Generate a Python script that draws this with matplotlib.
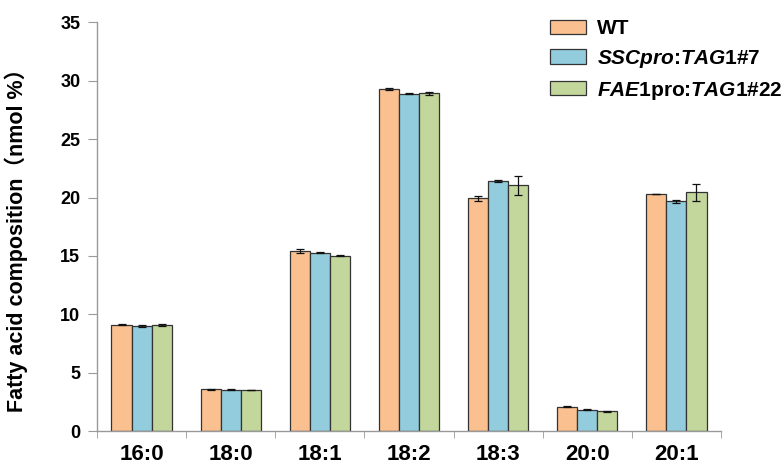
import numpy as np
import matplotlib
matplotlib.use("Agg")
import matplotlib.pyplot as plt

plt.rcParams['font.family'] = ['Liberation Sans', 'Noto Sans CJK SC', 'DejaVu Sans']
plt.rcParams['mathtext.fontset'] = 'custom'
plt.rcParams['mathtext.rm'] = 'Liberation Sans:bold'
plt.rcParams['mathtext.it'] = 'Liberation Sans:italic:bold'
plt.rcParams['mathtext.bf'] = 'Liberation Sans:bold'

# fatty acid species and mean composition (nmol %) with error
acids = ['16:0', '18:0', '18:1', '18:2', '18:3', '20:0', '20:1']
wt = [9.12, 3.57, 15.38, 29.30, 19.92, 2.09, 20.29]
wt_err = [0.05, 0.06, 0.17, 0.05, 0.23, 0.02, 0.03]
ssc = [9.00, 3.55, 15.26, 28.90, 21.43, 1.83, 19.69]
ssc_err = [0.12, 0.06, 0.04, 0.03, 0.08, 0.02, 0.13]
fae = [9.06, 3.49, 15.03, 28.93, 21.03, 1.71, 20.43]
fae_err = [0.10, 0.02, 0.06, 0.14, 0.80, 0.04, 0.77]

labels = ['WT',
          r'$\mathit{SSCpro}$:$\mathit{TAG1\#7}$',
          r'$\mathit{FAE1}$pro:$\mathit{TAG1\#22}$']
colors = ['#FAC090', '#93CDDD', '#C3D69B']

fig = plt.figure(figsize=(7.83, 4.70), dpi=100)
ax = fig.add_axes([97 / 783, 1 - 431 / 470, 624 / 783, 408.6 / 470])

x = np.arange(len(acids))
w = 0.225
series = [(wt, wt_err), (ssc, ssc_err), (fae, fae_err)]
for i, (vals, errs) in enumerate(series):
    ax.bar(x + (i - 1) * w, vals, w, color=colors[i], edgecolor='#333333',
           linewidth=0.9, label=labels[i], zorder=2)
    ax.errorbar(x + (i - 1) * w, vals, yerr=errs, fmt='none', ecolor='#111111',
                elinewidth=0.9, capsize=3, capthick=0.9, zorder=3)

ax.set_xlim(-0.5, len(acids) - 0.5)
ax.set_ylim(0, 35)
ax.set_yticks(np.arange(0, 36, 5))
ax.set_xticks(x)
ax.set_xticklabels(acids, fontsize=16, fontweight='bold')
ax.set_xticks(np.arange(-0.5, len(acids), 1), minor=True)
ax.tick_params(axis='x', which='major', length=0, pad=9.5)
ax.tick_params(axis='x', which='minor', length=5, color='#999999', direction='out')
ax.tick_params(axis='y', length=6.5, color='#999999', pad=5.5, labelsize=13)
for t in ax.get_yticklabels():
    t.set_fontweight('bold')

for s in ['top', 'right']:
    ax.spines[s].set_visible(False)
for s in ['left', 'bottom']:
    ax.spines[s].set_color('#999999')
    ax.spines[s].set_linewidth(1.0)

ax.set_ylabel('Fatty acid composition（nmol %）', fontsize=15.5, fontweight='bold')
ax.yaxis.set_label_coords(-0.11, 0.48)

fig.legend(loc='upper left', bbox_to_anchor=(550 / 783, 1 - 19 / 470),
           frameon=False, prop={'size': 15, 'weight': 'bold'},
           handlelength=1.73, handleheight=0.67, handletextpad=0.53,
           labelspacing=0.47, borderpad=0, borderaxespad=0)

fig.savefig('out.png', dpi=100)
